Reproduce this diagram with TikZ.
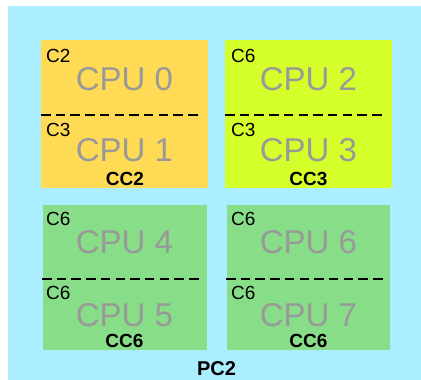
\documentclass[tikz,border=0pt]{standalone}
\usepackage{fontspec}
\setmainfont{Liberation Sans}
\definecolor{bgblue}{HTML}{AAEEFF}
\definecolor{boxyellow}{HTML}{FFDA55}
\definecolor{boxlime}{HTML}{D4FF2A}
\definecolor{boxgreen}{HTML}{88DD88}
\definecolor{cpugray}{HTML}{999999}
\tikzset{
  corebox/.style={draw=none, inner sep=0pt, outer sep=0pt, anchor=north west},
  cstate/.style={inner sep=0pt, anchor=base west, font=\fontsize{19}{19}\selectfont},
  cpulabel/.style={inner sep=0pt, anchor=base, text=cpugray, font=\fontsize{33}{33}\selectfont},
  cclabel/.style={inner sep=0pt, anchor=base, font=\fontsize{19}{19}\selectfont\bfseries},
  split/.style={line width=1.5pt, dash pattern=on 9.5pt off 5.2pt}
}
\begin{document}
\begin{tikzpicture}[x=1pt,y=-1pt]
\useasboundingbox (0,0) rectangle (421,380);
\fill[bgblue] (8,6) rectangle (421,380);
% boxes
\node[corebox, fill=boxyellow, minimum width=167pt, minimum height=148pt] (b1) at (41,40) {};
\node[corebox, fill=boxlime, minimum width=167pt, minimum height=148pt] (b2) at (225,40) {};
\node[corebox, fill=boxgreen, minimum width=164pt, minimum height=145pt] (b3) at (43,205) {};
\node[corebox, fill=boxgreen, minimum width=163pt, minimum height=145pt] (b4) at (227,205) {};
% dashed separators
\coordinate (d1a) at (41,115); \coordinate (d1b) at (199,115);
\coordinate (d2a) at (225,115); \coordinate (d2b) at (383,115);
\coordinate (d3a) at (42,279); \coordinate (d3b) at (199,279);
\coordinate (d4a) at (226,279); \coordinate (d4b) at (383,279);
\draw[split] (d1a) -- (d1b);
\draw[split] (d2a) -- (d2b);
\draw[split] (d3a) -- (d3b);
\draw[split] (d4a) -- (d4b);
% box 1
\node[cstate] (s0) at (46,63) {C2};
\node[cpulabel] (c0) at (124.5,90) {CPU 0};
\node[cstate] (s1) at (46,136) {C3};
\node[cpulabel] (c1) at (124.5,161) {CPU 1};
\node[cclabel] (cc1) at (125,185) {CC2};
% box 2
\node[cstate] (s2) at (231,63) {C6};
\node[cpulabel] (c2) at (308.5,90) {CPU 2};
\node[cstate] (s3) at (231,136) {C3};
\node[cpulabel] (c3) at (308.5,161) {CPU 3};
\node[cclabel] (cc2) at (308.5,185) {CC3};
% box 3
\node[cstate] (s4) at (46,225) {C6};
\node[cpulabel] (c4) at (124.5,253) {CPU 4};
\node[cstate] (s5) at (46,299) {C6};
\node[cpulabel] (c5) at (124.5,326) {CPU 5};
\node[cclabel] (cc3) at (124.5,347) {CC6};
% box 4
\node[cstate] (s6) at (231,225) {C6};
\node[cpulabel] (c6) at (308.5,253) {CPU 6};
\node[cstate] (s7) at (231,299) {C6};
\node[cpulabel] (c7) at (308.5,326) {CPU 7};
\node[cclabel] (cc4) at (308.5,347) {CC6};
% package
\node[cclabel, font=\fontsize{20}{20}\selectfont\bfseries] (pc) at (216.5,375) {PC2};
\end{tikzpicture}
\end{document}
